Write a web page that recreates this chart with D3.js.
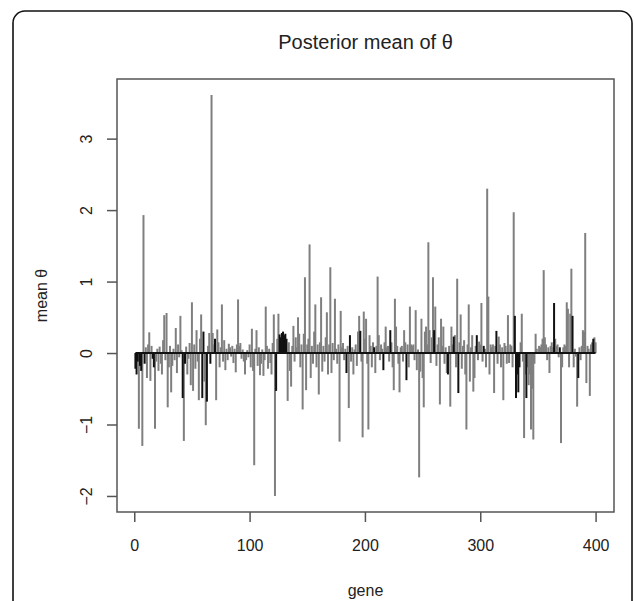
<!DOCTYPE html>
<html>
<head>
<meta charset="utf-8">
<script src="https://cdnjs.cloudflare.com/ajax/libs/d3/7.8.5/d3.min.js"></script>
<style>
  body { margin: 0; background: #fff; }
  svg text { font-family: "Liberation Sans", Arial, sans-serif; fill: #222; }
</style>
</head>
<body>
<div id="chart"></div>
<script>
// posterior mean of theta, one value per gene
var theta = [
  -0.22, -0.30, -0.12, -1.06, -0.18, -0.25, -1.30, 1.93, -0.15, 0.08,
  -0.35, 0.12, 0.29, -0.39, 0.10, -0.08, -0.20, -1.06, -0.12, 0.06,
  -0.25, 0.09, -0.15, -0.30, 0.18, 0.53, -0.10, 0.56, -0.76, -0.20,
  0.10, -0.55, -0.18, 0.06, -0.10, 0.35, -0.28, 0.12, -0.06, 0.52,
  0.04, -0.63, -1.23, -0.15, 0.09, -0.30, -0.08, 0.14, -0.45, 0.71,
  -0.53, 0.12, -0.22, 0.32, -0.12, -0.66, 0.20, 0.54, -0.63, 0.30,
  -0.40, -1.01, -0.68, 0.10, 0.28, -0.15, 3.61, 0.28, 0.12, 0.20,
  -0.66, 0.33, 0.15, -0.20, 0.08, 0.68, -0.12, 0.18, -0.24, 0.06,
  -0.10, 0.13, 0.08, -0.05, 0.10, -0.14, 0.06, -0.27, 0.12, 0.75,
  0.10, 0.14, -0.08, 0.05, -0.12, -0.30, -0.10, 0.04, -0.06, 0.12,
  -0.20, 0.34, -0.25, -1.57, 0.06, 0.32, -0.18, 0.08, -0.31, -0.15,
  0.05, -0.32, -0.10, 0.65, 0.10, -0.22, 0.06, -0.14, -0.30, 0.14,
  0.54, -2.00, -0.53, 0.20, 0.55, 0.26, 0.22, 0.28, 0.30, 0.25,
  0.27, 0.20, -0.67, 0.15, -0.25, -0.47, 0.10, 0.38, -0.12, 0.22,
  0.08, 0.50, 0.27, -0.20, 0.12, -0.79, 0.27, 1.06, -0.52, 0.12,
  0.20, 1.52, -0.35, 0.10, -0.15, 0.30, 0.68, -0.20, 0.12, -0.58,
  0.15, 0.78, -0.26, 0.10, -0.12, 0.22, 0.57, -0.30, 0.12, 1.20,
  -0.28, 0.14, -0.10, 0.76, 0.06, -0.15, 0.12, -1.24, 0.59, 0.08,
  0.14, -0.10, 0.06, -0.28, 0.10, -0.77, 0.25, -0.12, 0.08, -0.30,
  0.05, 0.12, -0.18, 0.30, 0.52, 0.31, -0.12, -1.18, 0.58, 0.20,
  0.48, -0.15, -1.07, 0.25, 0.10, -0.20, 0.15, 0.08, -0.28, 0.10,
  1.07, 0.25, -0.10, 0.12, 0.06, -0.24, 0.15, 0.37, 0.08, 0.10,
  -0.12, 0.32, 0.15, -0.20, -0.52, 0.76, 0.37, 0.10, -0.15, -0.55,
  0.08, 0.10, -0.12, 0.32, 0.15, -0.38, 0.12, -0.20, 0.65, 0.12,
  0.10, 0.12, -0.10, 0.60, -0.24, 0.05, -1.74, -0.26, 0.48, -0.35,
  -0.76, 0.30, 0.37, 0.12, 1.55, 0.32, -0.14, 0.22, 1.06, 0.32,
  0.65, -0.18, 0.12, 0.22, -0.72, 0.48, 0.10, 0.37, -0.15, 0.08,
  -0.28, -0.30, 0.10, -0.75, 0.37, 0.12, 0.23, 0.25, -0.20, 1.04,
  -0.56, 0.15, 0.54, -0.22, 0.10, 0.18, -0.30, -1.07, 0.12, 0.68,
  -0.40, 0.08, 0.25, -0.54, -0.35, 0.10, 0.25, -0.10, 0.16, 0.12,
  0.70, -0.12, 0.10, 0.06, -0.20, 2.30, 0.79, -0.30, 0.12, 0.08,
  0.12, -0.56, 0.10, 0.31, -0.15, 0.23, 0.12, -0.20, 0.08, -0.66,
  0.14, 0.10, -0.15, 0.53, -0.14, 0.12, 0.10, -0.20, 1.97, 0.52,
  -0.63, -0.30, -0.55, -0.20, 0.15, 0.55, -0.12, -1.19, -0.30, -0.63,
  -0.20, -0.45, -0.30, -1.07, -0.50, -1.21, -0.15, 0.27, 0.06, -0.01,
  0.10, 0.08, 0.12, 0.20, 1.16, 0.22, 0.12, -0.10, 0.08, -0.28,
  0.10, 0.15, 0.08, 0.70, 0.20, 0.10, 0.12, -0.06, 0.08, -1.26,
  -0.20, 0.08, 0.12, 0.10, 0.71, 0.62, -0.20, 0.55, 1.18, 0.52,
  -0.20, 0.06, -0.05, -0.75, -0.35, 0.08, -0.10, 0.10, 0.32, 0.30,
  1.68, -0.42, 0.10, 0.06, -0.60, 0.12, 0.15, 0.20, 0.22, 0.15
];

// genes drawn in black (the rest are grey)
var blackGenes = [1, 2, 3, 5, 6, 9, 16, 17, 42, 44, 59, 60, 63, 66, 70, 123,
  126, 127, 128, 129, 130, 131, 132, 184, 187, 196, 208, 216, 222, 236, 260,
  272, 277, 281, 297, 303, 314, 330, 331, 332, 333, 334, 340, 364, 369, 380,
  385, 398];

var xTicks = [0, 100, 200, 300, 400];
var yTicks = [-2, -1, 0, 1, 2, 3];

var W = 634, H = 601;
var plot = { left: 117, top: 79, right: 614, bottom: 512 };

var data = theta.map(function (v, i) {
  return { gene: i + 1, value: v, black: blackGenes.indexOf(i + 1) >= 0 };
});

var svg = d3.select("#chart")
  .append("svg")
  .attr("width", W)
  .attr("height", H);

// outer rounded frame (bottom runs off the picture)
svg.append("rect")
  .attr("x", 13)
  .attr("y", 11)
  .attr("width", 619)
  .attr("height", 640)
  .attr("rx", 12)
  .attr("fill", "none")
  .attr("stroke", "#111")
  .attr("stroke-width", 1.6);

// R style 4% padding on both axes
var nGenes = data.length;
var padX = 0.04 * (nGenes - 1);
var x = d3.scaleLinear()
  .domain([1 - padX, nGenes + padX])
  .range([plot.left, plot.right]);

var yMin = d3.min(theta), yMax = d3.max(theta);
var padY = 0.04 * (yMax - yMin);
var y = d3.scaleLinear()
  .domain([yMin - padY, yMax + padY])
  .range([plot.bottom, plot.top]);

// vertical "h" lines, grey first then black on top
svg.append("g")
  .selectAll("line")
  .data(data.filter(function (d) { return !d.black; }))
  .enter()
  .append("line")
  .attr("x1", function (d) { return x(d.gene); })
  .attr("x2", function (d) { return x(d.gene); })
  .attr("y1", y(0))
  .attr("y2", function (d) { return y(d.value); })
  .attr("stroke", "#7f7f7f")
  .attr("stroke-width", 2);

svg.append("g")
  .selectAll("line")
  .data(data.filter(function (d) { return d.black; }))
  .enter()
  .append("line")
  .attr("x1", function (d) { return x(d.gene); })
  .attr("x2", function (d) { return x(d.gene); })
  .attr("y1", y(0))
  .attr("y2", function (d) { return y(d.value); })
  .attr("stroke", "#111")
  .attr("stroke-width", 2);

// zero line across the genes
svg.append("line")
  .attr("x1", x(1))
  .attr("x2", x(nGenes))
  .attr("y1", y(0))
  .attr("y2", y(0))
  .attr("stroke", "#111")
  .attr("stroke-width", 2);

// box
svg.append("rect")
  .attr("x", plot.left)
  .attr("y", plot.top)
  .attr("width", plot.right - plot.left)
  .attr("height", plot.bottom - plot.top)
  .attr("fill", "none")
  .attr("stroke", "#555")
  .attr("stroke-width", 1.5);

// x axis
var xAxis = svg.append("g")
  .attr("transform", "translate(0," + plot.bottom + ")")
  .call(d3.axisBottom(x).tickValues(xTicks).tickSize(10).tickPadding(18));

xAxis.select(".domain").remove();
xAxis.selectAll(".tick line").attr("stroke", "#555").attr("stroke-width", 1.5);
xAxis.selectAll(".tick text")
  .attr("font-size", 16)
  .attr("fill", "#222");

// y axis, labels parallel to the axis
var yAxis = svg.append("g")
  .attr("transform", "translate(" + plot.left + ",0)")
  .call(d3.axisLeft(y).tickValues(yTicks).tickSize(10).tickFormat(d3.format("d")));

yAxis.select(".domain").remove();
yAxis.selectAll(".tick line").attr("stroke", "#555").attr("stroke-width", 1.5);
yAxis.selectAll(".tick text")
  .attr("font-size", 16)
  .attr("fill", "#222")
  .attr("x", null)
  .attr("dy", null)
  .attr("text-anchor", "middle")
  .attr("transform", "translate(-31,0) rotate(-90)")
  .attr("dominant-baseline", "central");

// title and axis labels
svg.append("text")
  .attr("x", (plot.left + plot.right) / 2)
  .attr("y", 49)
  .attr("text-anchor", "middle")
  .attr("font-size", 20)
  .text("Posterior mean of θ");

svg.append("text")
  .attr("x", (plot.left + plot.right) / 2)
  .attr("y", 596)
  .attr("text-anchor", "middle")
  .attr("font-size", 16)
  .text("gene");

svg.append("text")
  .attr("transform", "translate(47," + (plot.top + plot.bottom) / 2 + ") rotate(-90)")
  .attr("text-anchor", "middle")
  .attr("font-size", 16)
  .text("mean θ");
</script>
</body>
</html>
